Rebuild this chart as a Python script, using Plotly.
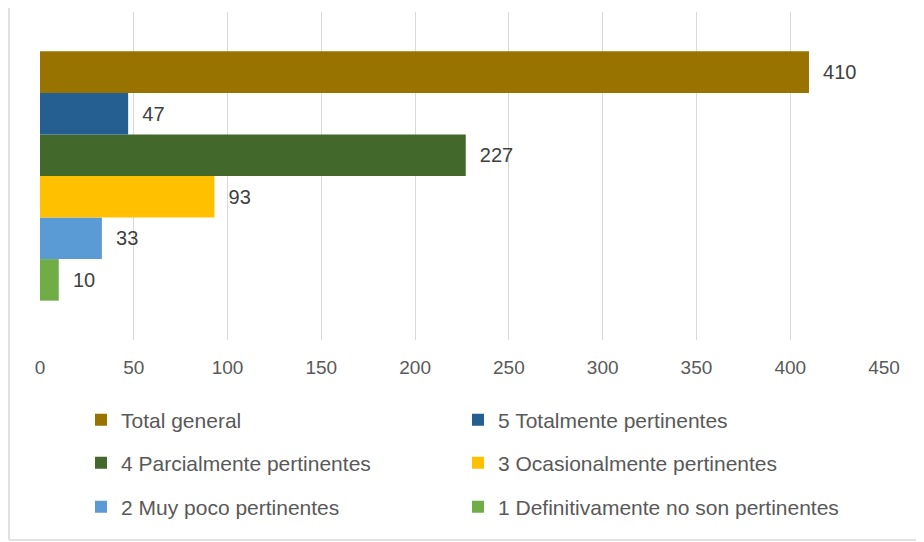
import plotly.graph_objects as go

series_names = [
    "Total general",
    "5 Totalmente pertinentes",
    "4 Parcialmente pertinentes",
    "3 Ocasionalmente pertinentes",
    "2 Muy poco pertinentes",
    "1 Definitivamente no son pertinentes",
]
series_values = [410, 47, 227, 93, 33, 10]
series_colors = ["#997300", "#255E91", "#43682B", "#FFC000", "#5B9BD5", "#70AD47"]
category = ["Respuestas"]
tick_values = [0, 50, 100, 150, 200, 250, 300, 350, 400, 450]

OFF = 8  # page body margin in the browser
W, H = 924, 542
# desired plot area in screen pixels: x 40..884, y 12..340
ML = 40 - OFF
MT = 12 - OFF
PW = 844
PH = 328
MR = W - ML - PW
MB = H - MT - PH

FONT = "Liberation Sans, Arial, sans-serif"
legend_ids = ["legend"] + ["legend%d" % k for k in range(2, 7)]


def py(screen_y):
    fig_y = screen_y - OFF
    return (MT + PH - fig_y) / PH


def px(screen_x):
    fig_x = screen_x - OFF
    return (fig_x - ML) / PW


fig = go.Figure()
# plotly draws the first trace of a horizontal group at the bottom, so add in reverse
for i in reversed(range(len(series_names))):
    fig.add_trace(go.Bar(
        y=category,
        x=[series_values[i]],
        name=series_names[i],
        orientation="h",
        marker=dict(color=series_colors[i], line=dict(width=0)),
        text=["\u00a0\u00a0" + str(series_values[i])],
        textposition="outside",
        textfont=dict(family=FONT, size=20, color="#404040"),
        cliponaxis=False,
        legend=legend_ids[i],
    ))

col_text_x = [121, 498]
row_y = [420, 463, 507]
legend_layout = {}
for i in range(len(series_names)):
    col, row = i % 2, i // 2
    legend_layout[legend_ids[i]] = dict(
        orientation="h",
        font=dict(family=FONT, size=21, color="#595959"),
        itemwidth=30,
        bgcolor="rgba(0,0,0,0)",
        xanchor="left",
        yanchor="middle",
        x=px(col_text_x[col] - 40),
        y=py(row_y[row]),
    )

fig.update_layout(
    width=W, height=H,
    margin=dict(l=ML, r=MR, t=MT, b=MB),
    paper_bgcolor="white",
    plot_bgcolor="white",
    barmode="group",
    bargap=0.24,
    bargroupgap=0,
    xaxis=dict(
        range=[0, 450],
        tickvals=tick_values,
        ticktext=[str(v) for v in tick_values],
        showgrid=True,
        gridcolor="#D9D9D9",
        gridwidth=1,
        zeroline=False,
        showline=False,
        ticks="",
        ticklabelstandoff=14,
        tickfont=dict(family=FONT, size=19, color="#595959"),
        fixedrange=True,
    ),
    yaxis=dict(showticklabels=False, showgrid=False, zeroline=False, showline=False, fixedrange=True),
    showlegend=True,
    shapes=[
        dict(type="line", xref="paper", yref="paper", x0=px(9), x1=px(9), y0=py(-20), y1=py(540),
             line=dict(color="#D9D9D9", width=1.5)),
        dict(type="line", xref="paper", yref="paper", x0=px(9), x1=px(940), y0=py(540), y1=py(540),
             line=dict(color="#D9D9D9", width=1.5)),
    ],
    **legend_layout,
)

fig.write_html("out.html")
